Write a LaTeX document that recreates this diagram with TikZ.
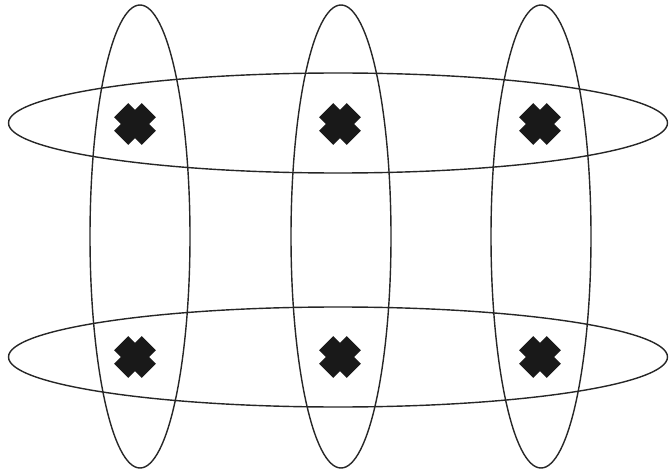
\documentclass[tikz,border=0pt]{standalone}
\begin{document}
\begin{tikzpicture}[x=0.3mm, y=-0.3mm]
  \tikzstyle{ring}=[draw=black!85, line width=1.2pt]
  \tikzstyle{blot}=[fill=black!90]
  \useasboundingbox (0,0) rectangle (669,470);
  % vertical ellipses
  \foreach \cx in {140,341,541}
    \draw[ring] (\cx,236.5) ellipse (50 and 231.5);
  % horizontal ellipses
  \foreach \cy in {123,357}
    \draw[ring] (338,\cy) ellipse (329.5 and 50);
  % crosses
  \foreach \px in {135,340,540}
    \foreach \py in {124,357}
      \fill[blot, shift={(\px,\py)}, rotate=45]
        (-10,-19.5) -- (10,-19.5) -- (10,-10) -- (19.5,-10) -- (19.5,10) -- (10,10)
        -- (10,19.5) -- (-10,19.5) -- (-10,10) -- (-19.5,10) -- (-19.5,-10) -- (-10,-10) -- cycle;
\end{tikzpicture}
\end{document}
